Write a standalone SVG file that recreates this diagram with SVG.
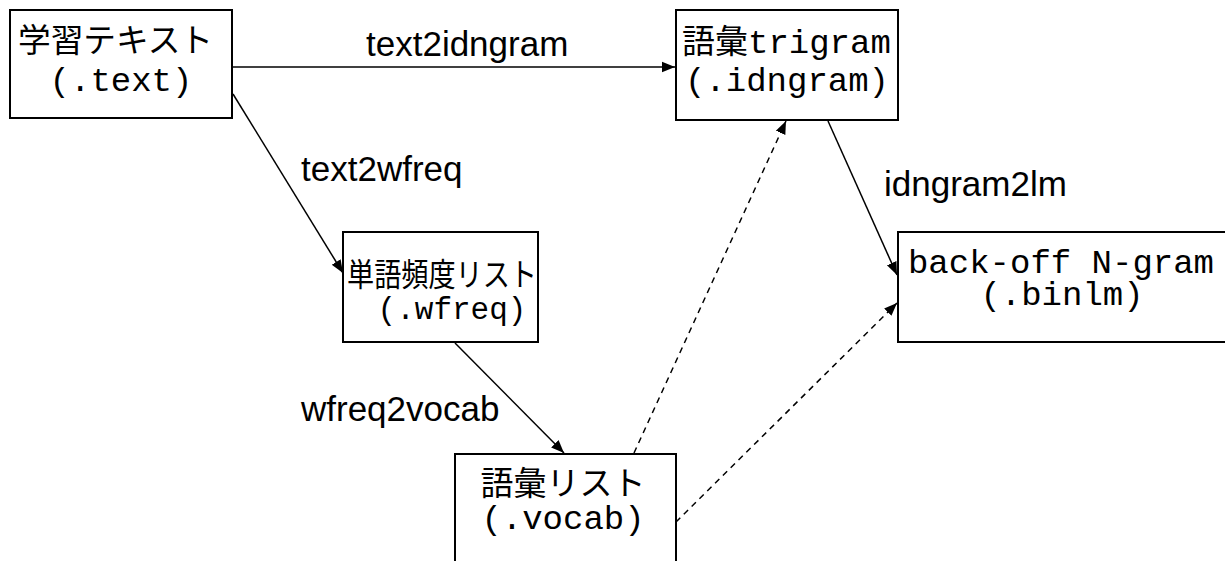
<svg xmlns="http://www.w3.org/2000/svg" width="1225" height="561" viewBox="0 0 1225 561">
<style>
.box{fill:#fff;stroke:#000;stroke-width:2}
.jp{font-family:"Liberation Sans","Noto Sans CJK JP",sans-serif;font-size:33px;fill:#000}
.mono{font-family:"Liberation Mono",monospace;font-size:34px;fill:#000}
.lbl{font-family:"Liberation Sans",Arial,sans-serif;font-size:35px;fill:#000}
.edge{stroke:#000;stroke-width:1.5;fill:none}
.dash{stroke-dasharray:6 5}
</style>
<defs>
<marker id="ah" viewBox="0 0 10 10" refX="10" refY="5" markerWidth="13" markerHeight="13" markerUnits="userSpaceOnUse" orient="auto">
<path d="M0,1 L10,5 L0,9 Z" fill="#000"/>
</marker>
</defs>
<rect width="1225" height="561" fill="#fff"/>
<g id="connectors">
<line class="edge" x1="232" y1="67" x2="675" y2="67" marker-end="url(#ah)"/>
<line class="edge" x1="233" y1="94" x2="343" y2="273" marker-end="url(#ah)"/>
<line class="edge" x1="455" y1="343" x2="564" y2="453" marker-end="url(#ah)"/>
<line class="edge dash" x1="634" y1="453" x2="786" y2="121" marker-end="url(#ah)"/>
<line class="edge dash" x1="676" y1="522" x2="897" y2="303" marker-end="url(#ah)"/>
<line class="edge" x1="828" y1="121" x2="897" y2="275" marker-end="url(#ah)"/>
<text class="lbl" x="366" y="56">text2idngram</text>
<text class="lbl" x="301" y="181">text2wfreq</text>
<text class="lbl" x="884" y="196">idngram2lm</text>
<text class="lbl" x="301" y="421">wfreq2vocab</text>
</g>
<g id="node-text">
<rect class="box" x="10" y="10" width="222" height="108"/>
<text class="jp" x="18" y="52" textLength="195" lengthAdjust="spacingAndGlyphs">学習テキスト</text>
<text class="mono" x="121" y="91" text-anchor="middle">(.text)</text>
</g>
<g id="node-idngram">
<rect class="box" x="676" y="10" width="222" height="110"/>
<text x="682" y="53"><tspan class="jp">語彙</tspan><tspan class="mono">trigram</tspan></text>
<text class="mono" x="787" y="91" text-anchor="middle">(.idngram)</text>
</g>
<g id="node-wfreq">
<rect class="box" x="343" y="232" width="195" height="110"/>
<text class="jp" x="347" y="286" textLength="190" lengthAdjust="spacingAndGlyphs" style="font-size:32px">単語頻度リスト</text>
<text class="mono" x="452" y="319" text-anchor="middle" style="font-size:31px">(.wfreq)</text>
</g>
<g id="node-vocab">
<rect class="box" x="455" y="454" width="221" height="120"/>
<text class="jp" x="563" y="495" text-anchor="middle">語彙リスト</text>
<text class="mono" x="563" y="529" text-anchor="middle">(.vocab)</text>
</g>
<g id="node-binlm">
<rect class="box" x="898" y="232" width="340" height="110"/>
<text class="mono" x="1061" y="273" text-anchor="middle">back-off N-gram</text>
<text class="mono" x="1062" y="305" text-anchor="middle">(.binlm)</text>
</g>
</svg>
